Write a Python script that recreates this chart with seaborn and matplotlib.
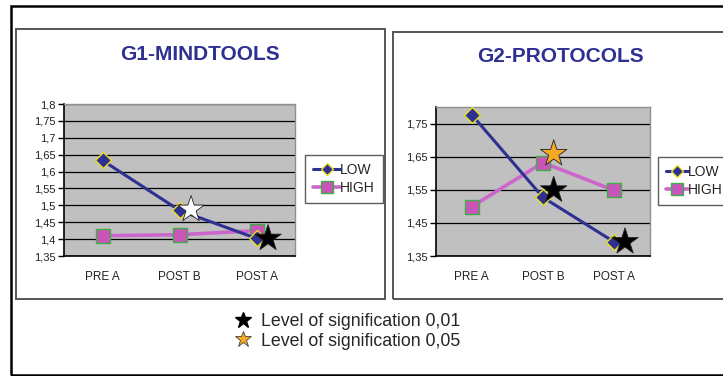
import numpy as np
import pandas as pd
import matplotlib
matplotlib.use("Agg")
import matplotlib.pyplot as plt
import seaborn as sns
from matplotlib.lines import Line2D
from matplotlib.patches import Rectangle
from matplotlib.ticker import FuncFormatter

phases = ["PRE A", "POST B", "POST A"]

g1_low = [1.633, 1.485, 1.402]
g1_high = [1.410, 1.413, 1.425]
g2_low = [1.777, 1.527, 1.392]
g2_high = [1.499, 1.632, 1.548]

# significance stars (phase index, value, colour)
g1_star_idx = [1, 2]
g1_star_val = [1.488, 1.402]
g1_star_col = ["white", "black"]
g2_star_idx = [1, 1, 2]
g2_star_val = [1.659, 1.549, 1.393]
g2_star_col = ["#F7A823", "black", "black"]

g1_yticks = [1.35, 1.4, 1.45, 1.5, 1.55, 1.6, 1.65, 1.7, 1.75, 1.8]
g2_yticks = [1.35, 1.45, 1.55, 1.65, 1.75]

LOW_COL = "#2E3192"
HIGH_COL = "#CC66CC"
W, H = 723, 376

sns.set_style("white")
plt.rcParams["font.family"] = ["Liberation Sans", "DejaVu Sans"]

fig = plt.figure(figsize=(W / 100, H / 100), dpi=100)


def px(x0, y0, x1, y1):
    # pixel box -> figure fraction rect
    return [x0 / W, 1 - y1 / H, (x1 - x0) / W, (y1 - y0) / H]


def comma(v, pos):
    return f"{v:g}".replace(".", ",")


def draw_panel(box, title, title_xy, low, high, ylim, yticks,
               star_idx, star_val, star_col, leg_xy, hlen):
    ax = fig.add_axes(px(*box))
    x = np.arange(len(phases))
    sns.lineplot(x=x, y=low, ax=ax, color=LOW_COL, lw=2.2, sort=False,
                 marker="D", markersize=8.5, markerfacecolor=LOW_COL,
                 markeredgecolor="#E8E020", markeredgewidth=1.0, zorder=4)
    sns.lineplot(x=x, y=high, ax=ax, color=HIGH_COL, lw=2.6, sort=False,
                 marker="s", markersize=10, markerfacecolor="#C855B8",
                 markeredgecolor="#3CB043", markeredgewidth=1.0, zorder=3)
    sns.scatterplot(x=np.array(star_idx) + 0.15, y=star_val, ax=ax,
                    marker="*", s=400, c=star_col, edgecolor="#222222",
                    linewidth=0.6, zorder=5, legend=False)

    ax.set_facecolor("#C0C0C0")
    ax.set_xlim(-0.5, len(phases) - 0.5)
    ax.set_ylim(*ylim)
    ax.set_yticks(yticks)
    ax.yaxis.set_major_formatter(FuncFormatter(comma))
    ax.yaxis.grid(True, color="black", lw=0.9)
    ax.set_axisbelow(True)
    ax.set_xticks(np.arange(len(phases) + 1) - 0.5)
    ax.set_xticklabels([])
    ax.set_xticks(x, minor=True)
    ax.set_xticklabels(phases, minor=True)
    ax.tick_params(axis="x", which="major", length=4, width=1, color="black", direction="out")
    ax.tick_params(axis="x", which="minor", length=0, pad=11, labelsize=8.5, labelcolor="#222222")
    ax.tick_params(axis="y", length=4, width=1, color="black", direction="out",
                   labelsize=8, labelcolor="#222222", pad=2, left=True)
    for side in ["top", "right"]:
        ax.spines[side].set_color("#909090")
        ax.spines[side].set_linewidth(1)
    for side in ["left", "bottom"]:
        ax.spines[side].set_color("black")
        ax.spines[side].set_linewidth(1.2)
    ax.set_xlabel("")
    ax.set_ylabel("")

    fig.text(title_xy[0] / W, 1 - title_xy[1] / H, title, ha="center", va="center",
             fontsize=15, fontweight="bold", color="#2E3192")

    handles = [Line2D([], [], color=LOW_COL, lw=2.2, marker="D", markersize=6,
                      markerfacecolor=LOW_COL, markeredgecolor="#E8E020"),
               Line2D([], [], color=HIGH_COL, lw=2.6, marker="s", markersize=8,
                      markerfacecolor="#C855B8", markeredgecolor="#3CB043")]
    leg = ax.legend(handles, ["LOW", "HIGH"], loc="upper left",
                    bbox_to_anchor=(leg_xy[0] / W, 1 - leg_xy[1] / H),
                    bbox_transform=fig.transFigure, fontsize=10,
                    frameon=True, fancybox=False, handlelength=hlen,
                    handletextpad=0.0, borderpad=0.6, labelspacing=0.25,
                    borderaxespad=0)
    leg.get_frame().set_edgecolor("#333333")
    leg.get_frame().set_linewidth(1)
    return ax


# outer frame and chart boxes
fig.patches.append(Rectangle((11 / W, 1 - 375 / H), 1.1, (375 - 6) / H,
                             transform=fig.transFigure, fill=False,
                             edgecolor="black", lw=1.8))
fig.patches.append(Rectangle((16 / W, 1 - 299 / H), (385 - 16) / W, (299 - 29) / H,
                             transform=fig.transFigure, fill=False,
                             edgecolor="#555555", lw=1.4))
fig.patches.append(Rectangle((393 / W, 1 - 299 / H), 0.6, (299 - 32) / H,
                             transform=fig.transFigure, fill=False,
                             edgecolor="#555555", lw=1.4))

draw_panel((64, 104, 295, 256), "G1-MINDTOOLS", (200, 55), g1_low, g1_high,
           (1.35, 1.8), g1_yticks, g1_star_idx, g1_star_val, g1_star_col, (305, 155), 1.9)
draw_panel((436, 107, 650, 256), "G2-PROTOCOLS", (560, 57), g2_low, g2_high,
           (1.35, 1.80), g2_yticks, g2_star_idx, g2_star_val, g2_star_col, (658, 157), 1.55)

# significance key
key_handles = [Line2D([], [], ls="", marker="*", markersize=12, color="black"),
               Line2D([], [], ls="", marker="*", markersize=12,
                      markerfacecolor="#F7A823", markeredgecolor="#444444", markeredgewidth=0.6)]
fig.legend(key_handles, ["Level of signification 0,01", "Level of signification 0,05"],
           loc="upper left", bbox_to_anchor=(234 / W, 1 - 313 / H), frameon=False,
           fontsize=12.8, handlelength=1.0, handletextpad=0.5, labelspacing=0.15,
           borderpad=0, borderaxespad=0)

fig.savefig("out.png", dpi=100)
